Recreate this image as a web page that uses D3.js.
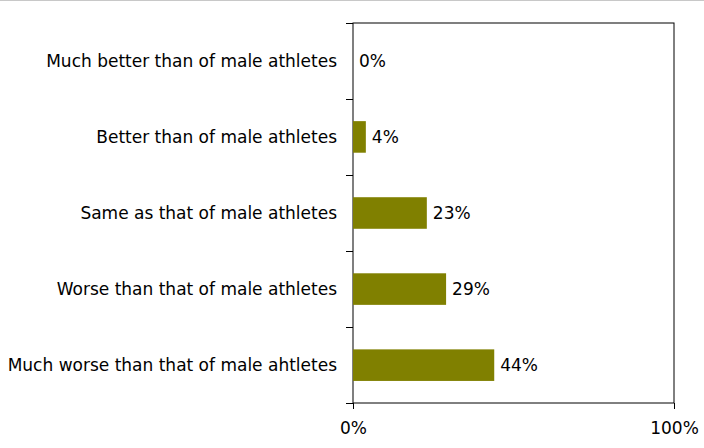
<!DOCTYPE html>
<html>
<head>
<meta charset="utf-8">
<script src="https://cdn.jsdelivr.net/npm/d3@7/dist/d3.min.js"></script>
<style>
  html, body { margin: 0; padding: 0; background: #fff; }
  svg { display: block; }
  text { font-family: Tahoma, "DejaVu Sans", Verdana, sans-serif; fill: #000; }
</style>
</head>
<body>
<svg id="chart" width="704" height="448"></svg>
<script>
// Survey responses: how female athletes' treatment compares with male athletes'
const categories = [
  "Much better than of male athletes",
  "Better than of male athletes",
  "Same as that of male athletes",
  "Worse than that of male athletes",
  "Much worse than that of male ahtletes"
];
const values = [0, 4, 23, 29, 44];
const xTickValues = [0, 100];

const svg = d3.select("#chart");
const W = 704, H = 448;
const margin = { top: 23, right: 30, bottom: 45, left: 353 };
const innerW = W - margin.left - margin.right;
const innerH = H - margin.top - margin.bottom;
const fontSize = "17px";

// thin grey rule across the top edge
svg.append("line")
  .attr("x1", 0).attr("x2", W)
  .attr("y1", 0.5).attr("y2", 0.5)
  .attr("stroke", "#c8c8c8").attr("stroke-width", 1);

const g = svg.append("g").attr("transform", `translate(${margin.left},${margin.top})`);

const x = d3.scaleLinear().domain([0, 100]).range([0, innerW]);
const y = d3.scaleBand().domain(categories).range([0, innerH]).paddingInner(0.585).paddingOuter(0.29);

// plot frame
g.append("rect")
  .attr("x", 0).attr("y", 0)
  .attr("width", innerW).attr("height", innerH)
  .attr("fill", "none").attr("stroke", "#000").attr("stroke-width", 1);

// bars
g.selectAll("rect.bar")
  .data(values)
  .enter().append("rect")
  .attr("class", "bar")
  .attr("x", x(0))
  .attr("y", (d, i) => y(categories[i]))
  .attr("width", d => x(d) - x(0))
  .attr("height", y.bandwidth())
  .attr("fill", "#808000");

// value labels
g.selectAll("text.val")
  .data(values)
  .enter().append("text")
  .attr("class", "val")
  .attr("x", d => x(d) + 6)
  .attr("y", (d, i) => y(categories[i]) + y.bandwidth() / 2)
  .attr("dy", "0.35em")
  .style("font-size", fontSize)
  .text(d => d + "%");

// category tick marks sit on the band boundaries
const step = innerH / categories.length;
const boundaries = d3.range(0, categories.length + 1).map(i => i * step);
g.selectAll("line.ytick")
  .data(boundaries)
  .enter().append("line")
  .attr("class", "ytick")
  .attr("x1", -7).attr("x2", 0)
  .attr("y1", d => Math.round(d) + 0.5).attr("y2", d => Math.round(d) + 0.5)
  .attr("stroke", "#000");

// category labels
g.selectAll("text.cat")
  .data(categories)
  .enter().append("text")
  .attr("class", "cat")
  .attr("x", -16)
  .attr("y", d => y(d) + y.bandwidth() / 2)
  .attr("dy", "0.35em")
  .attr("text-anchor", "end")
  .style("font-size", fontSize)
  .text(d => d);

// x axis
const xAxis = d3.axisBottom(x)
  .tickValues(xTickValues)
  .tickSize(6)
  .tickFormat(d => d + "%");
const xa = g.append("g")
  .attr("transform", `translate(0,${innerH})`)
  .call(xAxis);
xa.select(".domain").remove();
xa.selectAll(".tick line").attr("stroke", "#000");
xa.selectAll(".tick text")
  .attr("y", 19)
  .style("font-size", fontSize)
  .style("font-family", "Tahoma, 'DejaVu Sans', Verdana, sans-serif");
</script>
</body>
</html>
